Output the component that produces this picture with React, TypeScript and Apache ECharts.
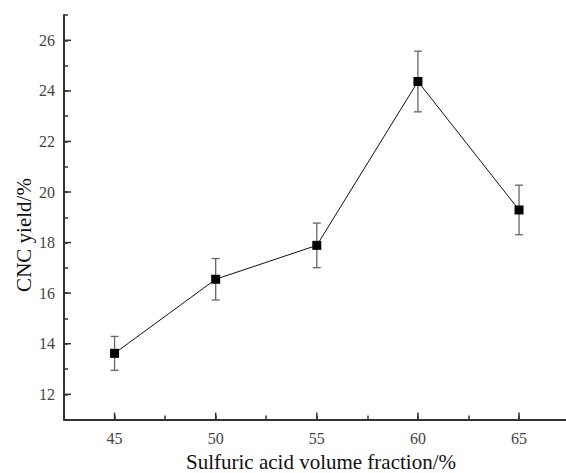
import React, { useEffect, useRef } from "react";
import * as echarts from "echarts";

const xValues = [45, 50, 55, 60, 65];
const yieldValues = [13.62, 16.55, 17.89, 24.37, 19.29];
const errorValues = [0.67, 0.82, 0.88, 1.2, 0.98];
const xMajorTicks = [45, 50, 55, 60, 65];
const yMajorTicks = [12, 14, 16, 18, 20, 22, 24, 26];
const X_MIN = 42.5;
const X_MAX = 67.5;
const Y_MIN = 11;
const Y_MAX = 27;
const xTitle = "Sulfuric acid volume fraction/%";
const yTitle = "CNC yield/%";

const FONT = "'Liberation Serif', 'DejaVu Serif', serif";

export default function App() {
  const ref = useRef<HTMLDivElement>(null);
  useEffect(() => {
    if (!ref.current) return;
    document.body.style.overflow = "hidden";
    const chart = echarts.init(ref.current, null, { renderer: "svg" });
    const axisColor = "#333";
    const lineData = xValues.map((x, i) => [x, yieldValues[i]]);
    const errData = xValues.map((x, i) => [x, yieldValues[i], errorValues[i]]);
    // major (longer) tick marks: [x, y, orientation(0 = x axis, 1 = y axis)]
    const majorTickData = [
      ...xMajorTicks.map((v) => [v, Y_MIN, 0]),
      ...yMajorTicks.map((v) => [X_MIN, v, 1]),
    ];
    chart.setOption({
      animation: false,
      backgroundColor: "#fff",
      grid: { left: 64, top: 15, width: 505.6, height: 404.6, containLabel: false },
      xAxis: {
        type: "value",
        min: X_MIN,
        max: X_MAX,
        interval: 2.5,
        axisLine: { show: true, onZero: false, lineStyle: { color: axisColor, width: 2 } },
        axisTick: { show: true, inside: true, length: 4, lineStyle: { color: axisColor, width: 1.5 } },
        splitLine: { show: false },
        axisLabel: {
          fontFamily: FONT,
          fontSize: 16,
          color: "#444",
          margin: 11,
          formatter: (v: number) => (v % 5 === 0 ? String(v) : ""),
        },
      },
      yAxis: {
        type: "value",
        min: Y_MIN,
        max: Y_MAX,
        interval: 1,
        axisLine: { show: true, onZero: false, lineStyle: { color: axisColor, width: 2 } },
        axisTick: { show: true, inside: true, length: 4, lineStyle: { color: axisColor, width: 1.5 } },
        splitLine: { show: false },
        axisLabel: {
          fontFamily: FONT,
          fontSize: 16,
          color: "#444",
          margin: 9,
          formatter: (v: number) => (v % 2 === 0 && v > Y_MIN ? String(v) : ""),
        },
      },
      graphic: [
        {
          type: "text",
          x: 321,
          y: 462,
          style: { text: xTitle, font: `21px ${FONT}`, fill: "#111", align: "center", verticalAlign: "middle" },
        },
        {
          type: "text",
          x: 24,
          y: 235,
          rotation: Math.PI / 2,
          style: { text: yTitle, font: `21px ${FONT}`, fill: "#111", align: "center", verticalAlign: "middle" },
        },
      ],
      series: [
        {
          type: "custom",
          data: majorTickData,
          encode: { x: 0, y: 1 },
          clip: false,
          silent: true,
          z: 5,
          renderItem: (params: any, api: any) => {
            const p = api.coord([api.value(0), api.value(1)]);
            const horiz = api.value(2) === 1;
            const len = 7;
            return {
              type: "group",
              children: [
                {
                  type: "rect",
                  shape: horiz
                    ? { x: p[0], y: p[1] - 0.75, width: len, height: 1.5 }
                    : { x: p[0] - 0.75, y: p[1] - len, width: 1.5, height: len },
                  style: { fill: axisColor },
                },
              ],
            };
          },
        },
        {
          type: "custom",
          data: errData,
          encode: { x: 0, y: 1 },
          z: 3,
          renderItem: (params: any, api: any) => {
            const x = api.value(0);
            const y = api.value(1);
            const e = api.value(2);
            const top = api.coord([x, y + e]);
            const bot = api.coord([x, y - e]);
            const hw = 4;
            const style = { stroke: "#666", lineWidth: 1.3 };
            return {
              type: "group",
              children: [
                { type: "line", shape: { x1: top[0], y1: top[1], x2: bot[0], y2: bot[1] }, style },
                { type: "line", shape: { x1: top[0] - hw, y1: top[1], x2: top[0] + hw, y2: top[1] }, style },
                { type: "line", shape: { x1: bot[0] - hw, y1: bot[1], x2: bot[0] + hw, y2: bot[1] }, style },
              ],
            };
          },
        },
        {
          type: "line",
          data: lineData,
          symbol: "rect",
          symbolSize: 9,
          z: 4,
          itemStyle: { color: "#000" },
          lineStyle: { color: "#111", width: 1 },
        },
      ],
    });
    return () => chart.dispose();
  }, []);
  return (
    <div
      ref={ref}
      style={{ position: "fixed", left: 0, top: 0, width: 580, height: 473, background: "#fff" }}
    />
  );
}
